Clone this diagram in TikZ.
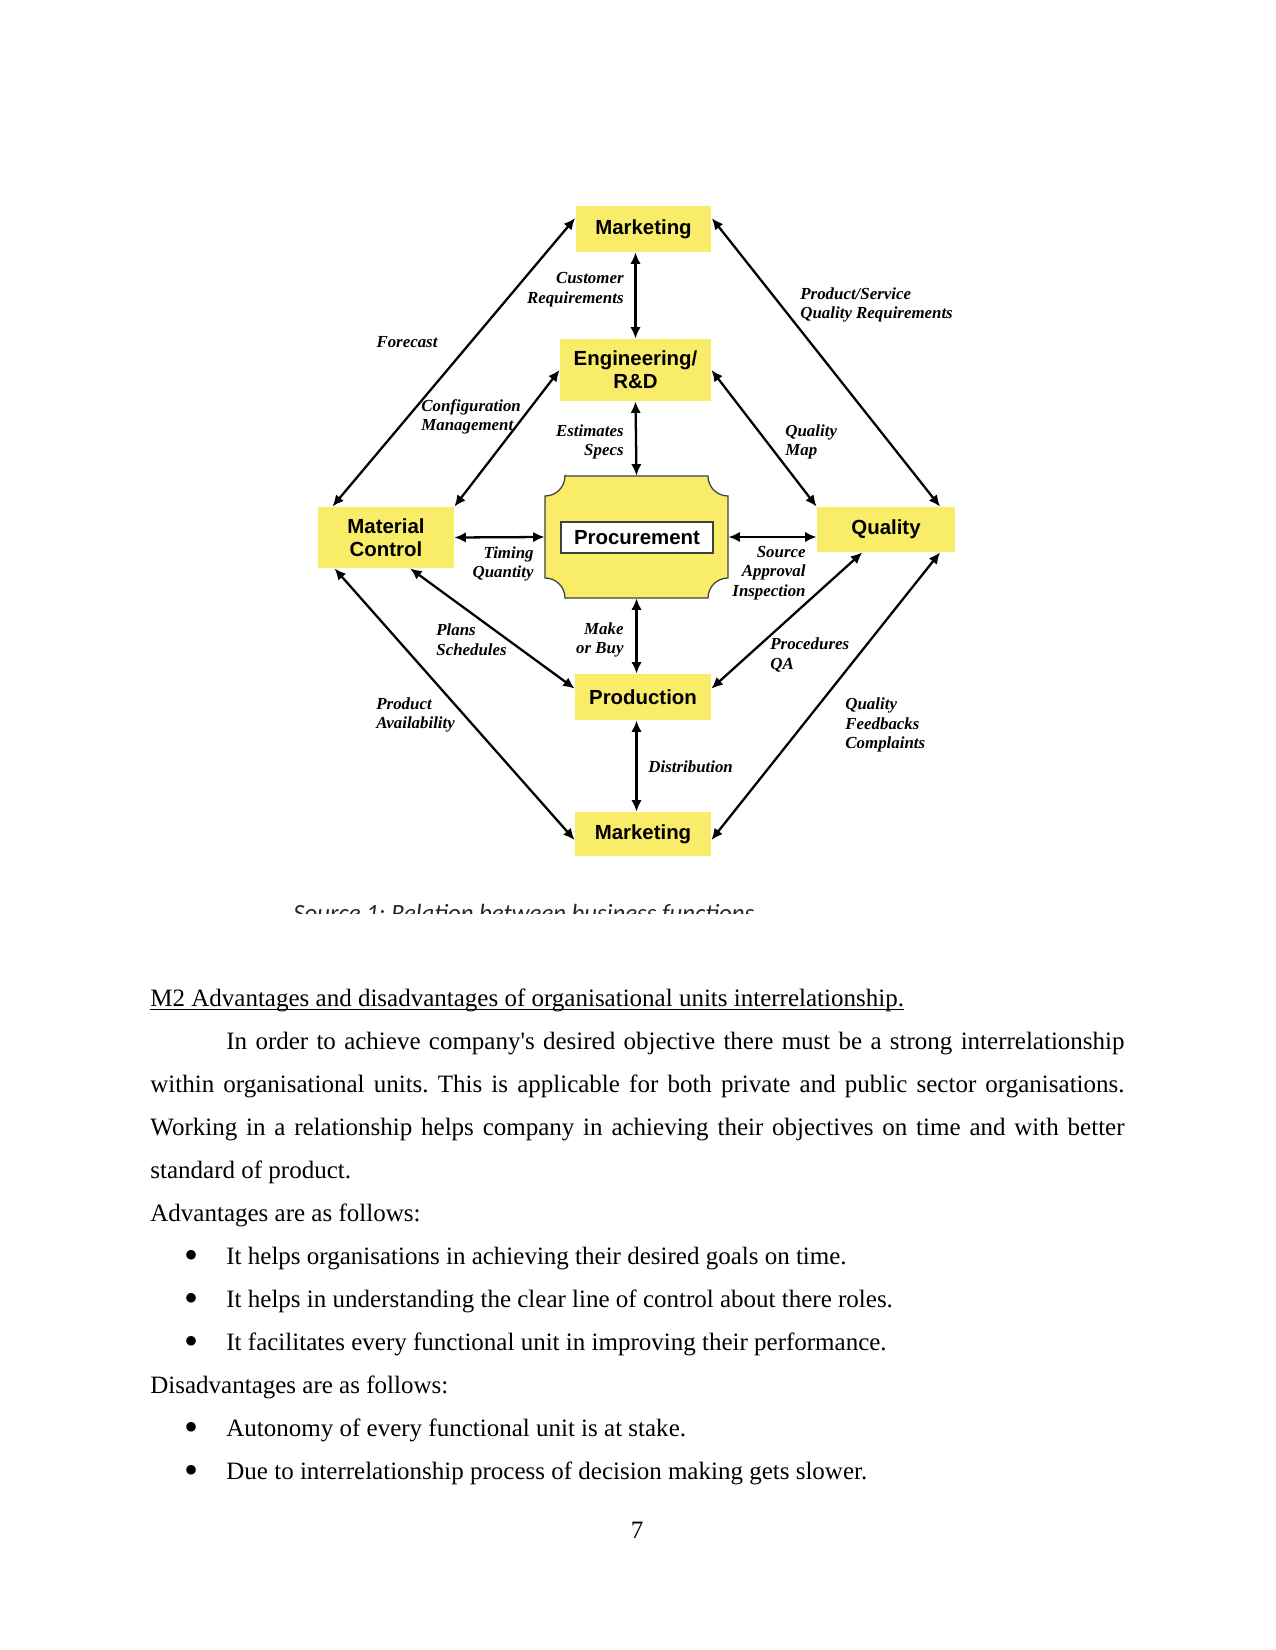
\documentclass[tikz,border=0pt]{standalone}
\usepackage{fontspec}
\setmainfont{Liberation Serif}
\setsansfont{Liberation Sans}
\newfontfamily\capfont{Carlito}
\usepackage{xcolor}
\usepackage{graphicx}
\usepackage{tikz}
\usetikzlibrary{arrows.meta}
\definecolor{boxyellow}{RGB}{248,236,104}
\frenchspacing

\begin{document}
\begin{tikzpicture}[
    x=0.4818pt, y=-0.4818pt,
    box/.style={fill=boxyellow, inner sep=0pt, minimum width=65.5pt,
                minimum height=22.2pt, align=center,
                font=\sffamily\bfseries\fontsize{9.8bp}{11bp}\selectfont},
    lbl/.style={inner sep=0pt, font=\bfseries\itshape\fontsize{8.1bp}{9.4bp}\selectfont},
    arr/.style={{Latex[length=5.5pt,width=5pt]}-{Latex[length=5.5pt,width=5pt]}, line width=1.1pt},
    body/.style={inner sep=0pt, anchor=base west, font=\fontsize{12bp}{14bp}\selectfont},
    bul/.style={inner sep=0pt, anchor=base, font=\fontsize{12bp}{14bp}\selectfont},
    caption/.style={inner sep=0pt, anchor=base west, text=black!85,
                    font=\capfont\itshape\fontsize{11.9bp}{14bp}\selectfont},
]
\useasboundingbox (0,0) rectangle (1275,1650);

% ── Function boxes ────────────────────────────────────
\node[box] (mkttop) at (643.5,229) {Marketing};
\node[box, minimum width=72.8pt, minimum height=29.9pt] (eng)
    at (635.5,370) {Engineering/\\R\&D};
\node[box, minimum height=29.4pt] (mc) at (386,537.5) {Material\\Control};
\node[box, minimum width=66.5pt, minimum height=21.7pt] (qual) at (886,529.5) {Quality};
\node[box] (prod) at (643,697) {Production};
\node[box, minimum height=21.2pt] (mktbot) at (643,834) {Marketing};

% ── Procurement plaque ────────────────────────────────
\filldraw[fill=boxyellow, draw=black!75, line width=0.6pt]
    (565,476) -- (708,476) arc[start angle=180, end angle=270, radius=9.64pt]
    -- (728,578) arc[start angle=90, end angle=180, radius=9.64pt]
    -- (565,598) arc[start angle=0, end angle=90, radius=9.64pt]
    -- (545,496) arc[start angle=-90, end angle=0, radius=9.64pt] -- cycle;
\node[minimum width=88.2pt, minimum height=58.8pt, inner sep=0pt] (proc) at (636.5,537) {};
\node[box, fill=white, draw=black!75, line width=0.6pt, minimum width=73.2pt,
      minimum height=14.9pt] (procin) at (637,537.5) {Procurement};

% ── Vertical flows ────────────────────────────────────
\draw[arr] (eng.north |- mkttop.south) -- (eng.north);
\draw[arr] (eng.south) -- (proc.north);
\draw[arr] (proc.south) -- (prod.north -| proc);
\draw[arr] (prod.south -| proc) -- (mktbot.north -| proc);

% ── Horizontal flows ──────────────────────────────────
\draw[arr] (mc.east) -- (proc.west);
\draw[arr] (proc.east) -- (qual.west |- proc.east);

% ── Diagonal flows ────────────────────────────────────
\draw[arr] (mkttop.171) -- (mc.150);
\draw[arr] (eng.west) -- (mc.north east);
\draw[arr] (mkttop.9) -- (qual.23);
\draw[arr] (eng.east) -- (qual.north west);
\draw[arr] (mc.-52) -- (prod.173);
\draw[arr] (qual.224) -- (prod.7);
\draw[arr] (mc.211) -- (mktbot.185);
\draw[arr] (qual.-23) -- (mktbot.-5);

% ── Flow labels ───────────────────────────────────────
\node[lbl, anchor=east, align=right] (lcust) at (624,290) {Customer\\Requirements};
\node[lbl] (lfore) at (407,342) {Forecast};
\node[lbl, anchor=west, align=left] (lserv) at (800,305) {Product/Service\\Quality Requirements};
\node[lbl, anchor=west, align=left] (lconf) at (421,417) {Configuration\\Management};
\node[lbl, anchor=east, align=right] (lest) at (624,442) {Estimates\\Specs};
\node[lbl, anchor=west, align=left] (lqmap) at (785,442) {Quality\\Map};
\node[lbl, anchor=east, align=right] (ltime) at (534,564) {Timing\\Quantity};
\node[lbl, anchor=east, align=right] (lsrc) at (806,573) {Source\\Approval\\Inspection};
\node[lbl, anchor=west, align=left] (lplan) at (436,640) {Plans\\Schedules};
\node[lbl, anchor=east, align=right] (lmake) at (624,640) {Make\\or Buy};
\node[lbl, anchor=west, align=left] (lqa) at (770,655) {Procedures\\QA};
\node[lbl, anchor=west, align=left] (lavail) at (376,715) {Product\\Availability};
\node[lbl, anchor=west, align=left] (lfeed) at (845,725) {Quality\\Feedbacks\\Complaints};
\node[lbl, anchor=west] (ldist) at (648,767) {Distribution};

% ── Caption (cut off) ─────────────────────────────────
\begin{scope}
\clip (280,890) rectangle (780,913);
\node[caption] (cap) at (293,921) {Source 1: Relation between business functions};
\end{scope}

% ── Body text ─────────────────────────────────────────
\node[body] (head) at (150,1006)
    {M2 Advantages and disadvantages of organisational units interrelationship.};
\draw[line width=0.5pt] ([yshift=-1.6pt]head.base west) -- ([yshift=-1.6pt]head.base east);
\node[body] (par1) at (226,1049)
    {\makebox[432.7pt][s]{In order to achieve company\textquotesingle s desired objective there must be a strong interrelationship}};
\node[body] (par2) at (150,1092)
    {\makebox[469.3pt][s]{within organisational units. This is applicable for both private and public sector organisations.}};
\node[body] (par3) at (150,1135)
    {\makebox[469.3pt][s]{Working in a relationship helps company in achieving their objectives on time and with better}};
\node[body] (par4) at (150,1178) {standard of product.};
\node[body] (adv) at (150,1221) {Advantages are as follows:};
\foreach \y/\txt [count=\i] in {1264/It helps organisations in achieving their desired goals on time.,
    1307/It helps in understanding the clear line of control about there roles.,
    1350/It facilitates every functional unit in improving their performance.}{
  \node[bul] (advb\i) at (191,\y) {\raisebox{-2.4pt}{\scalebox{1.6}{\textbullet}}};
  \node[body] (advt\i) at (226,\y) {\txt};
}
\node[body] (dis) at (150,1393) {Disadvantages are as follows:};
\foreach \y/\txt [count=\i] in {1436/Autonomy of every functional unit is at stake.,
    1479/Due to interrelationship process of decision making gets slower.}{
  \node[bul] (disb\i) at (191,\y) {\raisebox{-2.4pt}{\scalebox{1.6}{\textbullet}}};
  \node[body] (dist\i) at (226,\y) {\txt};
}
\node[body, anchor=base] (pgno) at (637,1538) {7};

\end{tikzpicture}
\end{document}
